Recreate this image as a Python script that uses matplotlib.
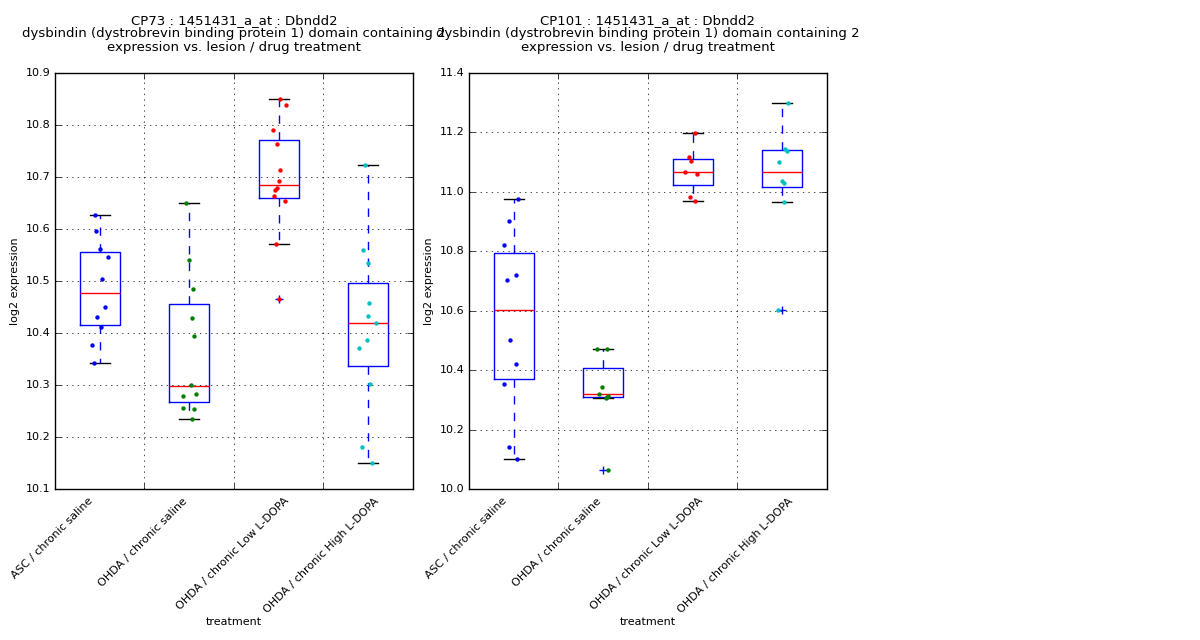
import matplotlib
matplotlib.use("Agg")
import matplotlib.pyplot as plt
from matplotlib.transforms import ScaledTranslation

plt.style.use("classic")
plt.rcParams["font.family"] = ["DejaVu Sans"]

groups = ["ASC / chronic saline", "OHDA / chronic saline",
          "OHDA / chronic Low L-DOPA", "OHDA / chronic High L-DOPA"]
point_colors = ["b", "g", "r", "c"]
# small horizontal nudges (points) of the rotated tick labels, as in the original
label_nudge = [-3.6, 0.0, 8.6, 9.4]

# CP73 panel: expression values per group and horizontal jitter
cp73_vals = [
    [10.627, 10.597, 10.562, 10.546, 10.504, 10.450, 10.431, 10.412, 10.376, 10.342],
    [10.650, 10.540, 10.485, 10.428, 10.394, 10.299, 10.283, 10.279, 10.256, 10.254, 10.235],
    [10.849, 10.839, 10.791, 10.764, 10.714, 10.693, 10.679, 10.674, 10.664, 10.654, 10.572, 10.465],
    [10.723, 10.560, 10.535, 10.458, 10.433, 10.420, 10.387, 10.372, 10.302, 10.181, 10.150],
]
cp73_jit = [
    [-0.054, -0.039, 0.002, 0.091, 0.024, 0.061, -0.028, 0.013, -0.088, -0.061],
    [-0.032, 0.002, 0.047, 0.035, 0.058, 0.024, 0.080, -0.065, -0.065, 0.058, 0.035],
    [0.015, 0.082, -0.060, -0.019, 0.015, 0.004, -0.019, -0.037, -0.048, 0.071, -0.030, 0.004],
    [-0.035, -0.058, 0.002, 0.013, 0.002, 0.091, -0.009, -0.099, 0.024, -0.065, 0.047],
]
# box stats: whisker low, q1, median, q3, whisker high, outliers
cp73_whislo = [10.342, 10.235, 10.572, 10.150]
cp73_q1 = [10.415, 10.267, 10.660, 10.336]
cp73_med = [10.476, 10.298, 10.684, 10.419]
cp73_q3 = [10.556, 10.455, 10.771, 10.496]
cp73_whishi = [10.627, 10.650, 10.849, 10.723]
cp73_fliers = [[], [], [10.465], []]

# CP101 panel
cp101_vals = [
    [10.976, 10.903, 10.822, 10.720, 10.703, 10.501, 10.421, 10.354, 10.141, 10.102],
    [10.471, 10.471, 10.343, 10.321, 10.314, 10.311, 10.306, 10.064],
    [11.199, 11.117, 11.105, 11.068, 11.061, 10.984, 10.969],
    [11.299, 11.144, 11.139, 11.101, 11.038, 11.031, 10.966, 10.602],
]
cp101_jit = [
    [0.048, -0.048, -0.108, 0.030, -0.074, -0.037, 0.030, -0.108, -0.052, 0.037],
    [-0.065, 0.047, -0.009, -0.043, 0.058, 0.043, 0.032, 0.058],
    [0.024, -0.039, -0.017, -0.084, 0.050, -0.028, 0.024],
    [0.063, 0.034, 0.052, -0.034, 0.0, 0.019, 0.019, -0.048],
]
cp101_whislo = [10.102, 10.305, 10.969, 10.966]
cp101_q1 = [10.369, 10.310, 11.022, 11.015]
cp101_med = [10.602, 10.320, 11.066, 11.066]
cp101_q3 = [10.793, 10.406, 11.110, 11.140]
cp101_whishi = [10.976, 10.471, 11.199, 11.299]
cp101_fliers = [[], [10.064], [], [10.602]]

gene = "1451431_a_at : Dbndd2"
desc = "dysbindin (dystrobrevin binding protein 1) domain containing 2"

fig = plt.figure(figsize=(12, 6.4), dpi=100, facecolor="white")


def draw_panel(ax, name, vals, jit, wlo, q1, med, q3, whi, fliers, ylim, yticks):
    n = len(groups)
    stats = []
    for i in range(n):
        stats.append(dict(whislo=wlo[i], q1=q1[i], med=med[i], q3=q3[i],
                          whishi=whi[i], fliers=fliers[i]))
    ax.bxp(stats, positions=range(1, n + 1), widths=0.45,
           boxprops=dict(color="b", linewidth=1),
           medianprops=dict(color="r", linewidth=1),
           whiskerprops=dict(color="b", linestyle="--", linewidth=1),
           capprops=dict(color="k", linewidth=1),
           flierprops=dict(marker="+", markeredgecolor="b", markersize=6,
                           linestyle="none"))
    for i, (v, j) in enumerate(zip(vals, jit)):
        xs = [i + 1 + d for d in j]
        ax.scatter(xs, v, s=10, color=point_colors[i], linewidths=0, zorder=3)
    ax.set_xlim(0.5, n + 0.5)
    ax.set_ylim(*ylim)
    ax.set_yticks(yticks)
    ax.ticklabel_format(axis="y", useOffset=False)
    # grid lines sit between the groups, labels under the groups
    ax.set_xticks([k + 0.5 for k in range(1, n)])
    ax.set_xticklabels([])
    ax.set_xticks(range(1, n + 1), minor=True)
    ax.set_xticklabels(groups, minor=True, rotation=45, ha="right", fontsize=8)
    ax.tick_params(axis="x", which="minor", length=0, pad=5)
    ax.tick_params(axis="y", labelsize=8, pad=3)
    for lab, dx in zip(ax.get_xticklabels(minor=True), label_nudge):
        lab.set_transform(lab.get_transform() + ScaledTranslation(dx / 72, 0, fig.dpi_scale_trans))
    ax.grid(True, which="major", color="k", linestyle=":", linewidth=0.5)
    ax.set_xlabel("treatment", fontsize=8, labelpad=1.5)
    ax.set_ylabel("log2 expression", fontsize=8, labelpad=4)
    ax.set_title(name + " : " + gene + "\n" + desc + "\nexpression vs. lesion / drug treatment",
                 fontsize=9.5, pad=16, linespacing=1.05)


ax1 = fig.add_axes([0.0458, 0.236, 0.2983, 0.65])
draw_panel(ax1, "CP73", cp73_vals, cp73_jit, cp73_whislo, cp73_q1, cp73_med,
           cp73_q3, cp73_whishi, cp73_fliers, (10.1, 10.9),
           [10.1, 10.2, 10.3, 10.4, 10.5, 10.6, 10.7, 10.8, 10.9])

ax2 = fig.add_axes([0.3908, 0.236, 0.2983, 0.65])
draw_panel(ax2, "CP101", cp101_vals, cp101_jit, cp101_whislo, cp101_q1, cp101_med,
           cp101_q3, cp101_whishi, cp101_fliers, (10.0, 11.4),
           [10.0, 10.2, 10.4, 10.6, 10.8, 11.0, 11.2, 11.4])

fig.savefig("out.png", dpi=100, facecolor="white")
